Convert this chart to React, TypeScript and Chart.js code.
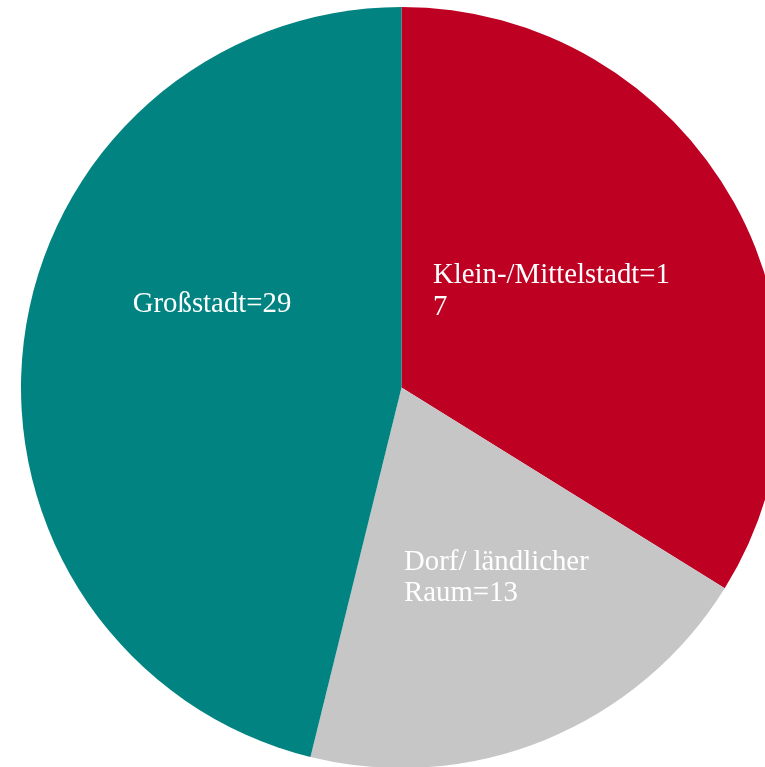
import React, { useEffect, useRef } from "react";
import { Chart, registerables } from "chart.js";

Chart.register(...registerables);

const categories = ["Klein-/Mittelstadt", "Dorf/ ländlicher Raum", "Großstadt"];
const sliceValues = [22, 13, 30];
const labelLines = [
  ["Klein-/Mittelstadt=1", "7"],
  ["Dorf/ ländlicher", "Raum=13"],
  ["Großstadt=29"],
];
const colors = ["#BE0023", "#C6C6C6", "#008381"];
// label anchor (left, first baseline) as fraction of radius from center
const labelAnchors = [
  [0.0828, -0.274],
  [0.0066, 0.4796],
  [-0.7064, -0.1976],
];

const labelPlugin = {
  id: "sliceLabels",
  afterDatasetsDraw(chart: any) {
    const meta = chart.getDatasetMeta(0);
    const ctx = chart.ctx;
    ctx.save();
    ctx.fillStyle = "#ffffff";
    ctx.font = '28.8px "Liberation Serif"';
    ctx.textAlign = "left";
    ctx.textBaseline = "alphabetic";
    meta.data.forEach((arc: any, i: number) => {
      const { x, y, outerRadius } = arc.getProps(["x", "y", "outerRadius"], true);
      const [fx, fy] = labelAnchors[i];
      const lx = x + fx * outerRadius;
      const ly = y + fy * outerRadius;
      labelLines[i].forEach((line, j) => {
        ctx.fillText(line, lx, ly + j * 31.5);
      });
    });
    ctx.restore();
  },
};

export default function App() {
  const ref = useRef<HTMLCanvasElement | null>(null);
  useEffect(() => {
    if (!ref.current) return;
    const chart = new Chart(ref.current, {
      type: "pie",
      data: {
        labels: categories,
        datasets: [
          {
            data: sliceValues,
            backgroundColor: colors,
            borderWidth: 0,
          },
        ],
      },
      options: {
        animation: false,
        responsive: true,
        maintainAspectRatio: false,
        layout: { padding: 0 },
        plugins: {
          legend: { display: false },
          tooltip: { enabled: false },
        },
      },
      plugins: [labelPlugin],
    });
    return () => chart.destroy();
  }, []);
  return (
    <div
      style={{
        position: "fixed",
        left: 0,
        top: 0,
        width: 765,
        height: 767,
        overflow: "hidden",
        background: "#fff",
      }}
    >
      <div style={{ position: "absolute", left: 21, top: 7, width: 761, height: 761 }}>
        <canvas ref={ref} />
      </div>
    </div>
  );
}
